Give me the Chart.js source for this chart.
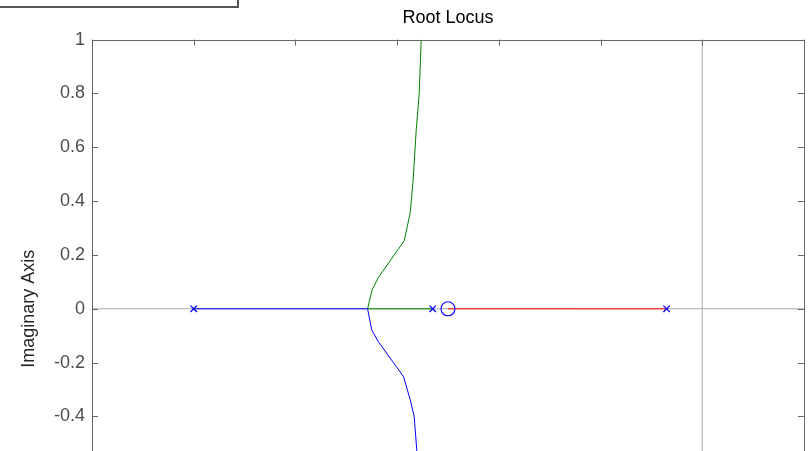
<!DOCTYPE html>
<html>
<head>
<meta charset="utf-8">
<script src="https://cdn.jsdelivr.net/npm/chart.js@4/dist/chart.umd.min.js"></script>
<style>
  html, body { margin: 0; padding: 0; background: #fff; overflow: hidden; }
  #wrap { position: relative; width: 812px; height: 640px; }
  #note { position: absolute; left: -4px; top: -30px; width: 239px; height: 34px;
          border: 2px solid #555; background: #fff; }
</style>
</head>
<body>
<div id="wrap"><canvas id="c"></canvas><div id="note"></div></div>
<script>
// Axis ticks
const xTicks = [-6, -5, -4, -3, -2, -1, 0, 1];
const yTicks = [-1, -0.8, -0.6, -0.4, -0.2, 0, 0.2, 0.4, 0.6, 0.8, 1];

// Open-loop poles and zero (real parts, all on the real axis)
const poleRe = [-5, -2.65, -0.35];
const poleIm = [0, 0, 0];
const zeroRe = [-2.5];
const zeroIm = [0];

// Branch from the pole at -5: along the real axis to the breakaway point, then downward
const blueRe = [-5, -3.29, -3.25, -3.185, -2.937, -2.871, -2.832, -2.806, -2.77];
const blueIm = [0, 0, -0.078, -0.122, -0.252, -0.338, -0.400, -0.528, -1.0];

// Branch from the pole at -2.65: to the breakaway point, then upward
const greenRe = [-2.65, -3.29, -3.245, -3.186, -2.930, -2.871, -2.842, -2.812, -2.783, -2.763];
const greenIm = [0, 0, 0.071, 0.115, 0.253, 0.357, 0.480, 0.665, 0.796, 1.0];

// Branch from the pole at -0.35 into the zero at -2.5
const redRe = [-0.35, -2.5];
const redIm = [0, 0];

// Real and imaginary axis lines
const realAxisRe = [-6, 1];
const realAxisIm = [0, 0];
const imagAxisRe = [0, 0];
const imagAxisIm = [-1, 1];

const pts = (xs, ys) => xs.map((v, i) => ({ x: v, y: ys[i] }));
const FONT = "'Liberation Sans', Arial, sans-serif";

// Box around the plot with inward tick marks on all four sides
const framePlugin = {
  id: 'frame',
  afterDatasetsDraw(chart) {
    const { ctx, chartArea: a, scales: { x, y } } = chart;
    ctx.save();
    ctx.strokeStyle = '#666';
    ctx.lineWidth = 1;
    ctx.strokeRect(Math.round(a.left) + 0.5, Math.round(a.top) + 0.5,
                   Math.round(a.right - a.left), Math.round(a.bottom - a.top));
    ctx.beginPath();
    xTicks.forEach(v => {
      const px = Math.round(x.getPixelForValue(v)) + 0.5;
      ctx.moveTo(px, a.top); ctx.lineTo(px, a.top + 6);
      ctx.moveTo(px, a.bottom); ctx.lineTo(px, a.bottom - 6);
    });
    yTicks.forEach(v => {
      const py = Math.round(y.getPixelForValue(v)) + 0.5;
      ctx.moveTo(a.left, py); ctx.lineTo(a.left + 6, py);
      ctx.moveTo(a.right, py); ctx.lineTo(a.right - 6, py);
    });
    ctx.stroke();
    ctx.restore();
  }
};

new Chart(document.getElementById('c'), {
  type: 'scatter',
  data: {
    datasets: [
      { data: pts(poleRe, poleIm), pointStyle: 'crossRot', pointRadius: 4.5,
        borderColor: '#0000ff', backgroundColor: '#0000ff', borderWidth: 1.3, showLine: false },
      { data: pts(zeroRe, zeroIm), pointStyle: 'circle', pointRadius: 7,
        borderColor: '#0000ff', backgroundColor: 'rgba(0,0,0,0)', borderWidth: 1.1, showLine: false },
      { data: pts(blueRe, blueIm), showLine: true, borderColor: '#0000ff', borderWidth: 1, pointRadius: 0 },
      { data: pts(greenRe, greenIm), showLine: true, borderColor: '#008000', borderWidth: 1, pointRadius: 0 },
      { data: pts(redRe, redIm), showLine: true, borderColor: '#ff0000', borderWidth: 1, pointRadius: 0 },
      { data: pts(realAxisRe, realAxisIm), showLine: true, borderColor: '#aaaaaa', borderWidth: 1, pointRadius: 0 },
      { data: pts(imagAxisRe, imagAxisIm), showLine: true, borderColor: '#aaaaaa', borderWidth: 1, pointRadius: 0 }
    ]
  },
  options: {
    responsive: true,
    maintainAspectRatio: false,
    animation: false,
    layout: { padding: { left: 0, right: 1, top: 0, bottom: 10 } },
    plugins: {
      legend: { display: false },
      tooltip: { enabled: false },
      title: {
        display: true, text: 'Root Locus', fullSize: false, color: '#000',
        font: { family: FONT, size: 18, weight: 'normal' },
        padding: { top: 7, bottom: 11 }
      }
    },
    scales: {
      x: {
        type: 'linear', min: -6, max: 1,
        afterBuildTicks: s => { s.ticks = xTicks.map(v => ({ value: v })); },
        afterFit: s => { s.height = 52; s.paddingRight = 0; s.paddingLeft = 0; },
        grid: { display: false, drawTicks: false },
        border: { display: false },
        ticks: { color: '#4d4d4d', padding: 6, font: { family: FONT, size: 18 } },
        title: { display: true, text: 'Real Axis', color: '#262626', font: { family: FONT, size: 18 } }
      },
      y: {
        type: 'linear', min: -1, max: 1,
        afterBuildTicks: s => { s.ticks = yTicks.map(v => ({ value: v })); },
        afterFit: s => { s.width = 92; },
        grid: { display: false, drawTicks: false },
        border: { display: false },
        ticks: {
          color: '#4d4d4d', padding: 7, font: { family: FONT, size: 18 },
          callback: v => String(+Number(v).toFixed(1))
        },
        title: {
          display: true, text: 'Imaginary Axis', color: '#262626',
          font: { family: FONT, size: 18 }, padding: { top: 18, bottom: 0 }
        }
      }
    }
  },
  plugins: [framePlugin]
});
</script>
</body>
</html>
